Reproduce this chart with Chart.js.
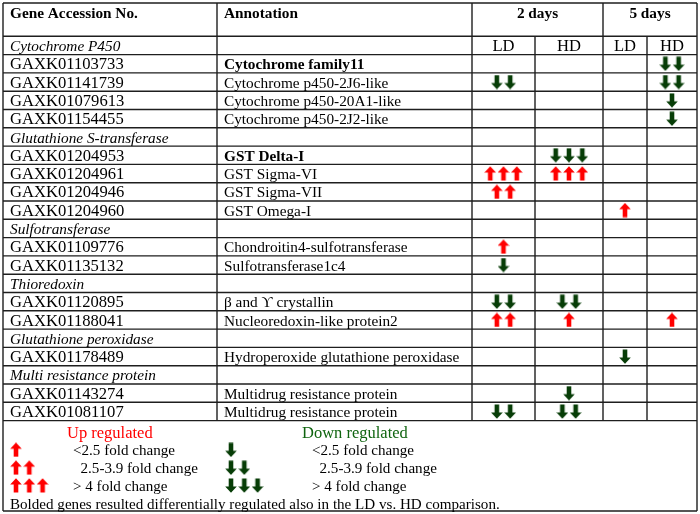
<!DOCTYPE html>
<html>
<head>
<meta charset="utf-8">
<script src="https://cdn.jsdelivr.net/npm/chart.js@4.4.0/dist/chart.umd.min.js"></script>
<style>html,body{margin:0;padding:0;background:#fff}canvas{display:block}</style>
</head>
<body>
<canvas id="c" width="700" height="514"></canvas>
<script>
// ---------------- DATA ----------------
const HEADERS = ["Gene Accession No.", "Annotation"];
const PERIOD_LABELS = ["2 days", "5 days"];
const SUB_LABELS = ["LD", "HD", "LD", "HD"];
const ROW_KIND = ["group","bold","plain","plain","plain",
                  "group","bold","plain","plain","plain",
                  "group","plain","plain",
                  "group","plain","plain",
                  "group","plain",
                  "group","plain","plain"];
const GENE_COL = ["Cytochrome P450","GAXK01103733","GAXK01141739","GAXK01079613","GAXK01154455",
                  "Glutathione S-transferase","GAXK01204953","GAXK01204961","GAXK01204946","GAXK01204960",
                  "Sulfotransferase","GAXK01109776","GAXK01135132",
                  "Thioredoxin","GAXK01120895","GAXK01188041",
                  "Glutathione peroxidase","GAXK01178489",
                  "Multi resistance protein","GAXK01143274","GAXK01081107"];
const ANNOTATION = ["","Cytochrome family11","Cytochrome p450-2J6-like","Cytochrome p450-20A1-like","Cytochrome p450-2J2-like",
                  "","GST Delta-I","GST Sigma-VI","GST Sigma-VII","GST Omega-I",
                  "","Chondroitin4-sulfotransferase","Sulfotransferase1c4",
                  "","\u03B2 and \u03D2 crystallin","Nucleoredoxin-like protein2",
                  "","Hydroperoxide glutathione peroxidase",
                  "","Multidrug resistance protein","Multidrug resistance protein"];
// signed number of arrows: + up regulated, - down regulated
const D2_LD = [0, 0,-2, 0, 0,  0, 0, 3, 2, 0,  0, 1,-1,  0,-2, 2,  0, 0,  0, 0,-2];
const D2_HD = [0, 0, 0, 0, 0,  0,-3, 3, 0, 0,  0, 0, 0,  0,-2, 1,  0, 0,  0,-1,-2];
const D5_LD = [0, 0, 0, 0, 0,  0, 0, 0, 0, 1,  0, 0, 0,  0, 0, 0,  0,-1,  0, 0, 0];
const D5_HD = [0,-2,-2,-1,-1,  0, 0, 0, 0, 0,  0, 0, 0,  0, 0, 1,  0, 0,  0, 0, 0];
const LEGEND_TITLES = ["Up regulated", "Down regulated"];
const LEGEND_LEVELS = [1, 2, 3];
const LEGEND_TEXT = ["<2.5 fold change", "  2.5-3.9 fold change", "> 4 fold change"];
const NOTE = "Bolded genes resulted differentially regulated also in the LD vs. HD comparison.";

// ---------------- LAYOUT / STYLE ----------------
const W = 700, H = 514;
const TOP_PX = 36.3, ROW_PX = 18.3;
const COL_EDGES = [3, 217, 472, 535, 603, 647, 697];
const TABLE_TOP = 3, TABLE_BOTTOM = 511;
const ARROW_GAP = 13.3;
const LEG_START = 0.62, LEG_STEP = 0.975;
const UP_X = 16, DOWN_X = 231, UP_TEXT_X = 73, DOWN_TEXT_X = 312;
const FONT = '"Liberation Serif","Times New Roman",serif';
const FS = 15.3, FS_ID = 16.6, FS_LEG = 15.1, FS_LEG_TITLE = 16.5;
const RED = '#ff0000', GREEN_ARROW = '#073d07', GREEN_TEXT = '#0f640f', LINE = '#1e1e1e';

function arrowCanvas(up, color) {
  const c = document.createElement('canvas');
  c.width = 12; c.height = 15;
  const g = c.getContext('2d');
  g.fillStyle = color;
  g.beginPath();
  const pts = [[6,0.2],[11.8,6.6],[8.3,6.6],[8.3,14.6],[3.7,14.6],[3.7,6.6],[0.2,6.6]];
  pts.forEach((p,i) => {
    const y = up ? p[1] : 15 - p[1];
    if (i === 0) g.moveTo(p[0], y); else g.lineTo(p[0], y);
  });
  g.closePath();
  g.fill();
  return c;
}
const UP_IMG = arrowCanvas(true, RED);
const DOWN_IMG = arrowCanvas(false, GREEN_ARROW);

const nRows = GENE_COL.length;
const valueCols = [D2_LD, D2_HD, D5_LD, D5_HD];
const colCenter = i => (COL_EDGES[i] + COL_EDGES[i + 1]) / 2;

const upPts = [], downPts = [];
function pushArrows(cx, y, v) {
  const n = Math.abs(v);
  for (let k = 0; k < n; k++) {
    const p = {x: cx + (k - (n - 1) / 2) * ARROW_GAP, y: y};
    (v > 0 ? upPts : downPts).push(p);
  }
}
valueCols.forEach((arr, ci) => {
  arr.forEach((v, r) => { if (v) pushArrows(colCenter(ci + 2), r + 0.5, v); });
});
LEGEND_LEVELS.forEach((lv, i) => {
  const y = nRows + LEG_START + (i + 1) * LEG_STEP;
  for (let k = 0; k < lv; k++) {
    upPts.push({x: UP_X + k * ARROW_GAP, y: y});
    downPts.push({x: DOWN_X + k * ARROW_GAP, y: y});
  }
});

const tablePlugin = {
  id: 'tablePlugin',
  beforeDatasetsDraw(chart) {
    const ctx = chart.ctx, xs = chart.scales.x, ys = chart.scales.y;
    const px = v => xs.getPixelForValue(v);
    const py = v => ys.getPixelForValue(v);
    ctx.save();
    ctx.strokeStyle = LINE;
    ctx.lineWidth = 1.4;
    const hline = (y, x0, x1) => { ctx.beginPath(); ctx.moveTo(px(x0), y); ctx.lineTo(px(x1), y); ctx.stroke(); };
    const vline = (x, y0, y1) => { ctx.beginPath(); ctx.moveTo(px(x), y0); ctx.lineTo(px(x), y1); ctx.stroke(); };
    const top = TABLE_TOP, bottom = TABLE_BOTTOM;
    const L = COL_EDGES[0], R = COL_EDGES[COL_EDGES.length - 1];
    // outer border
    hline(top, L, R); hline(bottom, L, R);
    vline(L, top, bottom); vline(R, top, bottom);
    // row lines
    for (let r = 0; r <= nRows; r++) hline(py(r), L, R);
    // column lines
    [1, 2, 4].forEach(i => vline(COL_EDGES[i], top, py(nRows)));
    [3, 5].forEach(i => vline(COL_EDGES[i], py(0), py(nRows)));

    ctx.textBaseline = 'alphabetic';
    ctx.fillStyle = '#000';
    // header
    ctx.font = 'bold ' + FS + 'px ' + FONT;
    ctx.textAlign = 'left';
    ctx.fillText(HEADERS[0], px(COL_EDGES[0] + 7), top + 15.3);
    ctx.fillText(HEADERS[1], px(COL_EDGES[1] + 7), top + 15.3);
    ctx.textAlign = 'center';
    ctx.fillText(PERIOD_LABELS[0], px((COL_EDGES[2] + COL_EDGES[4]) / 2), top + 15.3);
    ctx.fillText(PERIOD_LABELS[1], px((COL_EDGES[4] + COL_EDGES[6]) / 2), top + 15.3);
    ctx.font = FS_ID + 'px ' + FONT;
    SUB_LABELS.forEach((s, i) => ctx.fillText(s, px(colCenter(i + 2)), py(0.5) + 5.6));
    // rows
    ctx.textAlign = 'left';
    for (let r = 0; r < nRows; r++) {
      const base = py(r + 0.5) + 5.6;
      const kind = ROW_KIND[r];
      if (kind === 'group') {
        ctx.font = 'italic ' + FS + 'px ' + FONT;
        ctx.fillText(GENE_COL[r], px(COL_EDGES[0] + 7), base);
      } else {
        ctx.font = FS_ID + 'px ' + FONT;
        ctx.fillText(GENE_COL[r], px(COL_EDGES[0] + 7), base);
        ctx.font = (kind === 'bold' ? 'bold ' : '') + FS + 'px ' + FONT;
        ctx.fillText(ANNOTATION[r], px(COL_EDGES[1] + 7), base);
      }
    }
    // legend
    const ly = i => py(nRows + LEG_START + i * LEG_STEP) + 5.6;
    ctx.font = FS_LEG_TITLE + 'px ' + FONT;
    ctx.fillStyle = RED;
    ctx.fillText(LEGEND_TITLES[0], px(67), ly(0));
    ctx.fillStyle = GREEN_TEXT;
    ctx.fillText(LEGEND_TITLES[1], px(302), ly(0));
    ctx.font = FS_LEG + 'px ' + FONT;
    ctx.fillStyle = '#000';
    LEGEND_TEXT.forEach((t, i) => {
      ctx.fillText(t, px(UP_TEXT_X), ly(i + 1));
      ctx.fillText(t, px(DOWN_TEXT_X), ly(i + 1));
    });
    ctx.fillText(NOTE, px(10), ly(4));
    ctx.restore();
  }
};

new Chart(document.getElementById('c'), {
  type: 'scatter',
  data: {
    datasets: [
      {label: 'Up regulated', data: upPts, pointStyle: UP_IMG, pointRadius: 6, showLine: false},
      {label: 'Down regulated', data: downPts, pointStyle: DOWN_IMG, pointRadius: 6, showLine: false}
    ]
  },
  options: {
    responsive: false,
    animation: false,
    devicePixelRatio: 1,
    events: [],
    layout: {padding: 0, autoPadding: false},
    plugins: {legend: {display: false}, tooltip: {enabled: false}, title: {display: false}},
    scales: {
      x: {type: 'linear', min: 0, max: W, display: false},
      y: {type: 'linear', reverse: true, min: -TOP_PX / ROW_PX, max: (H - TOP_PX) / ROW_PX, display: false}
    }
  },
  plugins: [tablePlugin]
});
</script>
</body>
</html>
